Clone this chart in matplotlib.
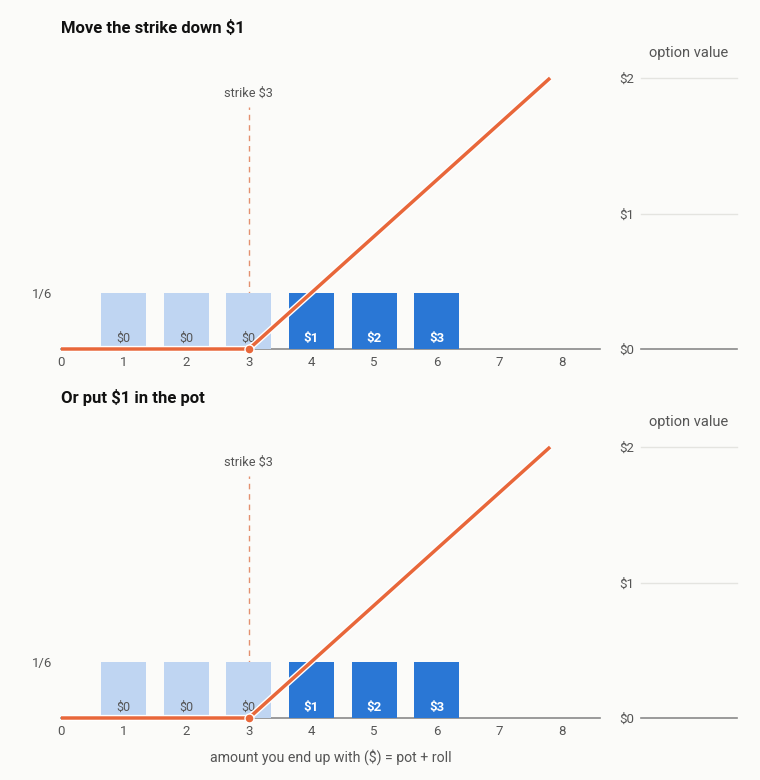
import matplotlib.pyplot as plt
import matplotlib.patheffects as pe

plt.rcParams['font.family'] = ['Roboto', 'DejaVu Sans']

# data
rolls = [1, 2, 3, 4, 5, 6]
prob = [1/6] * 6
payoff = ['$0', '$0', '$0', '$1', '$2', '$3']
in_money = [False, False, False, True, True, True]
strike = 3
line_x = [0, 3, 7.81]
line_y = [0, 0, 2]
xticks = [0, 1, 2, 3, 4, 5, 6, 7, 8]
value_ticks = [0, 1, 2]
value_labels = ['$0', '$1', '$2']
titles = ['Move the strike down $1', 'Or put $1 in the pot']

W, H = 760, 780
bg = '#fbfbf9'
light = '#bfd5f2'
dark = '#2a77d5'
orange = '#e8673a'
grey = '#555555'

fig = plt.figure(figsize=(W / 100, H / 100), dpi=100, facecolor=bg)


def px_axes(x0, y0, x1, y1):
    # pixel box (top-left origin) -> axes
    return fig.add_axes([x0 / W, 1 - y1 / H, (x1 - x0) / W, (y1 - y0) / H])


def panel(base, title, last):
    top = base - 271
    ax = px_axes(61, top, 600, base)
    ax.set_facecolor('none')
    ax.set_xlim(0, 539 / 62.625)
    ax.set_ylim(0, (1 / 6) * 271 / 56)
    for s in ax.spines.values():
        s.set_visible(False)
    ax.axhline(0, color='#8a8a8a', lw=1.2, zorder=1, clip_on=False)

    colors = [dark if m else light for m in in_money]
    ax.bar(rolls, prob, width=0.72, color=colors, zorder=2)
    for r, lab, m in zip(rolls, payoff, in_money):
        ax.text(r, 0.012, lab, ha='center', va='bottom',
                fontsize=9.5 if m else 9,
                color='white' if m else grey,
                fontweight='bold' if m else 'normal', zorder=3)

    ax.set_xticks(xticks)
    ax.set_xticklabels([str(t) for t in xticks], fontsize=9.5, color=grey)
    ax.tick_params(axis='x', length=0, pad=5)
    ax.set_yticks([1 / 6])
    ax.set_yticklabels(['1/6'], fontsize=9.5, color=grey)
    ax.tick_params(axis='y', length=0, pad=6)
    if last:
        ax.set_xlabel('amount you end up with ($) = pot + roll', fontsize=10.2,
                      color=grey, labelpad=8)

    # strike marker
    ax.plot([strike, strike], [0, 242 / 56 / 6], ls=(0, (4, 3.5)), lw=1,
            color='#e3906f', zorder=1)
    ax.text(strike, 256 / 56 / 6, 'strike $3', ha='center', va='center',
            fontsize=9.2, color=grey)

    # option value line
    vx = ax.twinx()
    vx.set_ylim(0, 2)
    vx.axis('off')
    vx.plot(line_x, line_y, color=orange, lw=2.5, clip_on=False, zorder=4,
            solid_capstyle='butt',
            path_effects=[pe.Stroke(linewidth=4.5, foreground='white'), pe.Normal()])
    vx.plot([strike], [0], 'o', ms=6.5, color=orange, mec='white', mew=1,
            clip_on=False, zorder=5)

    # option value scale
    rx = px_axes(641, top, 737, base)
    rx.set_facecolor('none')
    rx.set_ylim(0, 2)
    rx.set_xlim(0, 1)
    for s in rx.spines.values():
        s.set_visible(False)
    rx.set_xticks([])
    rx.set_yticks(value_ticks)
    rx.set_yticklabels(value_labels, fontsize=9.5, color=grey)
    rx.tick_params(axis='y', length=0, pad=5)
    for v in value_ticks:
        rx.axhline(v, color='#8a8a8a' if v == 0 else '#e4e4e0',
                   lw=1.2 if v == 0 else 1, clip_on=False)
    rx.text(0.5, 2 + 25 / 135.5, 'option value', ha='center', va='center',
            fontsize=10.5, color=grey)

    fig.text(61 / W, 1 - (top - 50) / H, title, fontsize=12,
             fontweight='bold', color='#111111', va='center', ha='left')


panel(349, titles[0], False)
panel(718, titles[1], True)

fig.savefig('out.png', dpi=100, facecolor=bg)
